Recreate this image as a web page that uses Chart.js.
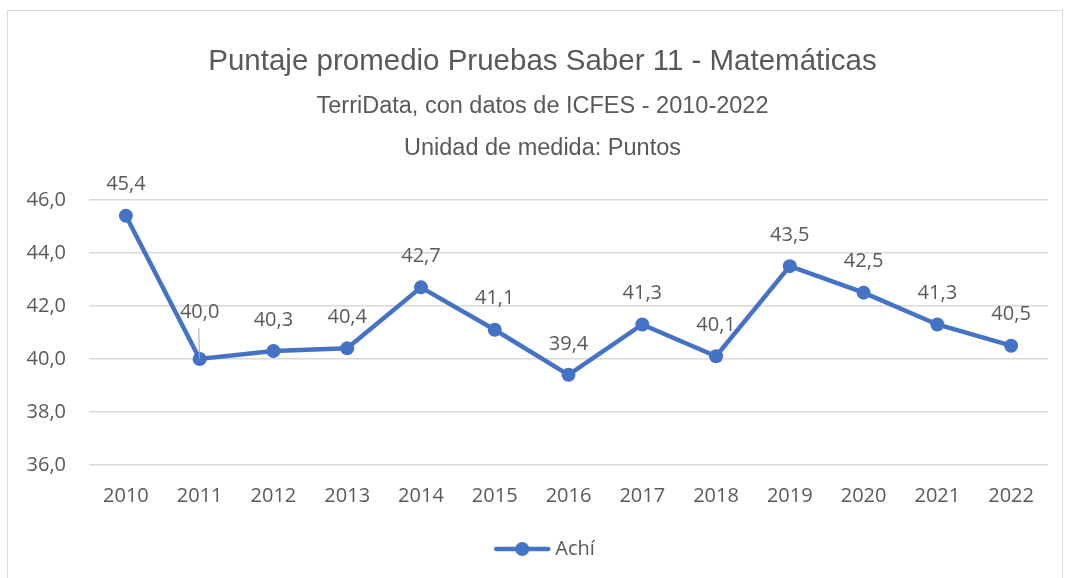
<!DOCTYPE html>
<html>
<head>
<meta charset="utf-8">
<script src="https://cdn.jsdelivr.net/npm/chart.js@4/dist/chart.umd.min.js"></script>
<style>
  html, body { margin: 0; padding: 0; background: #fff; }
  #wrap { position: relative; width: 1065px; height: 578px; overflow: hidden; }
  #frame { position: absolute; left: 7px; top: 10px; width: 1056px; height: 580px; border: 1px solid #d9d9d9; box-sizing: border-box; }
  canvas { position: absolute; left: 0; top: 0; }
</style>
</head>
<body>
<div id="wrap">
  <div id="frame"></div>
  <canvas id="chart" width="1065" height="578"></canvas>
</div>
<script>
const years = ['2010', '2011', '2012', '2013', '2014', '2015', '2016', '2017', '2018', '2019', '2020', '2021', '2022'];
const achi = [45.4, 40.0, 40.3, 40.4, 42.7, 41.1, 39.4, 41.3, 40.1, 43.5, 42.5, 41.3, 40.5];
const seriesName = 'Achí';

const blue = '#4472C4';
const grey = '#595959';
const tickFont = { family: '"Open Sans"', size: 20 };

function fmt(v) {
    return v.toFixed(1).replace('.', ',');
}

// small canvas used as legend marker: line with a dot
function legendMarker() {
    const c = document.createElement('canvas');
    c.width = 58; c.height = 16;
    const ctx = c.getContext('2d');
    ctx.strokeStyle = blue;
    ctx.lineWidth = 4.5;
    ctx.lineCap = 'round';
    ctx.beginPath();
    ctx.moveTo(3, 8); ctx.lineTo(55, 8);
    ctx.stroke();
    ctx.fillStyle = blue;
    ctx.beginPath();
    ctx.arc(29, 8, 7, 0, Math.PI * 2);
    ctx.fill();
    return c;
}

// titles and legend are centred on the whole frame, not on the plot box
const recentre = {
    id: 'recentre',
    afterLayout(chart) {
        chart.boxes.forEach(b => {
            if (b.position === 'top') { b.left += 13.5; b.right += 13.5; }
            if (b.position === 'bottom' && b === chart.legend) { b.left += 18; b.right += 18; }
        });
    }
};

// value labels above each point
const valueLabels = {
    id: 'valueLabels',
    afterDatasetsDraw(chart) {
        const ctx = chart.ctx;
        const meta = chart.getDatasetMeta(0);
        const vals = chart.data.datasets[0].data;
        ctx.save();
        ctx.font = '20px "Open Sans"';
        ctx.fillStyle = grey;
        ctx.textAlign = 'center';
        ctx.textBaseline = 'middle';
        meta.data.forEach((pt, i) => {
            if (i === 1) {
                // label pushed up, with a leader line (it sits on the line)
                ctx.strokeStyle = '#a6a6a6';
                ctx.lineWidth = 1;
                ctx.beginPath();
                ctx.moveTo(pt.x - 1, pt.y - 31);
                ctx.lineTo(pt.x, pt.y);
                ctx.stroke();
                ctx.fillText(fmt(vals[i]), pt.x, pt.y - 47);
            } else {
                ctx.fillText(fmt(vals[i]), pt.x, pt.y - 31);
            }
        });
        ctx.restore();
    }
};

new Chart(document.getElementById('chart'), {
    type: 'line',
    data: {
        labels: years,
        datasets: [{
            label: seriesName,
            data: achi,
            borderColor: blue,
            backgroundColor: blue,
            borderWidth: 4.5,
            pointRadius: 7,
            pointHoverRadius: 7,
            pointBackgroundColor: blue,
            pointBorderWidth: 0,
            tension: 0
        }]
    },
    options: {
        responsive: false,
        animation: false,
        layout: { padding: { top: 31, left: 10, right: 17, bottom: 9 } },
        plugins: {
            title: {
                display: true,
                text: 'Puntaje promedio Pruebas Saber 11 - Matemáticas',
                color: grey,
                font: { family: '"Liberation Sans", Arial, sans-serif', size: 29.5, weight: 'normal', lineHeight: 1.2 },
                padding: { top: 13.3, bottom: 5.1 }
            },
            subtitle: {
                display: true,
                text: ['TerriData, con datos de ICFES - 2010-2022', 'Unidad de medida: Puntos'],
                color: grey,
                font: { family: '"Liberation Sans", Arial, sans-serif', size: 23.5, weight: 'normal', lineHeight: 1.81 },
                padding: { top: 0, bottom: 30 }
            },
            legend: {
                position: 'bottom',
                labels: {
                    color: grey,
                    font: tickFont,
                    usePointStyle: true,
                    pointStyleWidth: 46,
                    padding: 20,
                    generateLabels(chart) {
                        return [{
                            text: seriesName,
                            pointStyle: legendMarker(),
                            fillStyle: blue,
                            strokeStyle: blue,
                            lineWidth: 0,
                            fontColor: grey,
                            datasetIndex: 0,
                            hidden: false
                        }];
                    }
                }
            },
            tooltip: { enabled: false }
        },
        scales: {
            x: {
                offset: true,
                grid: { display: false },
                border: { display: false },
                ticks: { color: grey, font: tickFont, padding: 11 }
            },
            y: {
                min: 36,
                max: 46,
                afterFit: scale => { scale.width = 79; },
                grid: { color: '#d9d9d9', lineWidth: 1.5, drawTicks: false },
                border: { display: false },
                ticks: {
                    stepSize: 2,
                    color: grey,
                    font: tickFont,
                    padding: 23,
                    callback: v => fmt(v)
                }
            }
        }
    },
    plugins: [valueLabels, recentre]
});
</script>
</body>
</html>
